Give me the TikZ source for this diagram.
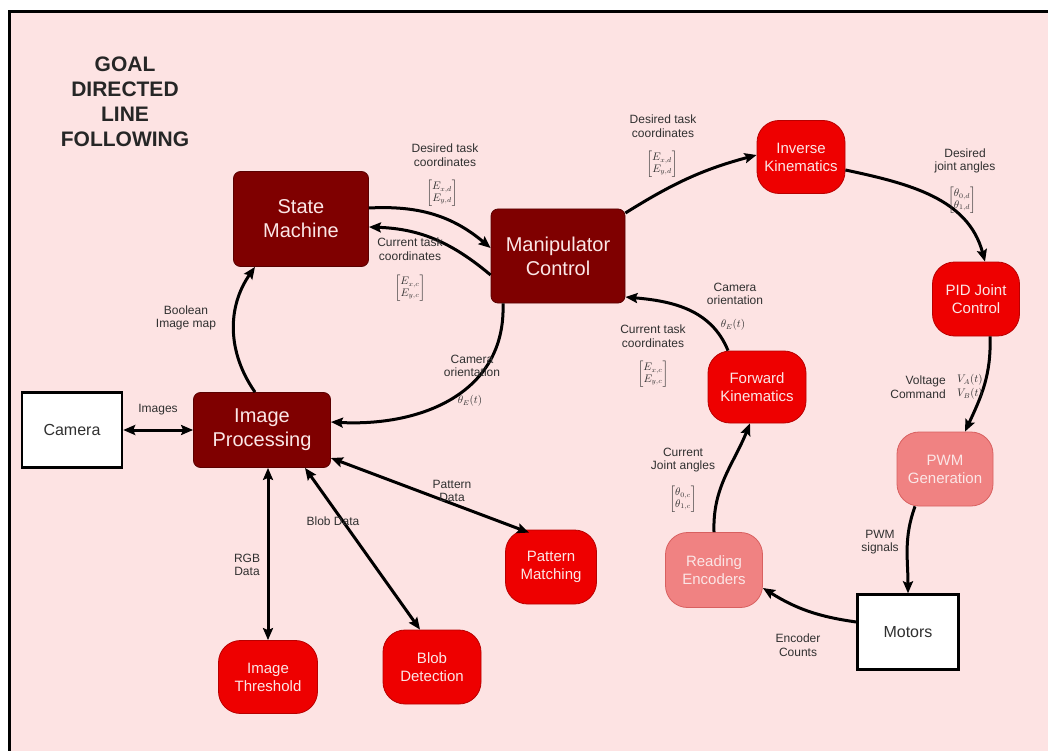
\documentclass[tikz,border=0pt]{standalone}
\usepackage{amsmath}
\usepackage{fontspec}
\setmainfont{Liberation Sans}
\usetikzlibrary{arrows.meta}
\definecolor{bgpink}{HTML}{FDE3E3}
\definecolor{maroonbox}{HTML}{7F0000}
\definecolor{maroonedge}{HTML}{5A0000}
\definecolor{rednode}{HTML}{EE0000}
\definecolor{rededge}{HTML}{B80000}
\definecolor{lightnode}{HTML}{F08282}
\definecolor{lightedge}{HTML}{D86060}
\definecolor{labeltxt}{HTML}{303030}
\definecolor{boxtxt}{HTML}{FBE6E6}
\newcommand\twomat[2]{$\left[\begin{matrix}#1\\#2\end{matrix}\right]$}
\begin{document}
\begin{tikzpicture}[x=1pt,y=-1pt,
  darkbox/.style={draw=maroonedge, line width=0.8pt, fill=maroonbox, rounded corners=7pt,
    text=boxtxt, font=\fontsize{20}{24}\selectfont, align=center, inner sep=0pt},
  rednd/.style={draw=rededge, line width=0.8pt, fill=rednode, rounded corners=22pt,
    text=boxtxt, font=\fontsize{15}{18}\selectfont, align=center, inner sep=0pt},
  lightnd/.style={rednd, draw=lightedge, fill=lightnode},
  whitebox/.style={draw=black, line width=2.4pt, fill=white, text=labeltxt,
    font=\fontsize{16}{19}\selectfont, align=center, inner sep=0pt,
    minimum width=100pt, minimum height=75pt},
  lbl/.style={text=labeltxt, font=\fontsize{12}{13.5}\selectfont, align=center, inner sep=0pt},
  mlbl/.style={text=labeltxt, font=\fontsize{10.5}{11.5}\selectfont, inner sep=0pt},
  arr/.style={line width=3pt, -{Stealth[length=12pt,width=10pt,inset=2pt]}},
  darr/.style={line width=3pt, {Stealth[length=12pt,width=10pt,inset=2pt]}-{Stealth[length=12pt,width=10pt,inset=2pt]}}
]
\useasboundingbox (0,0) rectangle (1048,751);
\fill[white] (0,0) rectangle (1048,751);
\fill[bgpink] (9,12) rectangle (1048,751);
\draw[line width=3pt] (9,770) -- (9,12) -- (1070,12);

% title
\node[text=black!85, font=\bfseries\fontsize{21}{25}\selectfont, align=center] (title) at (125,102)
  {GOAL\\DIRECTED\\LINE\\FOLLOWING};

% main boxes
\node[darkbox, minimum width=135pt, minimum height=95pt] (SM) at (301,219) {State\\Machine};
\node[darkbox, minimum width=134pt, minimum height=94pt] (MC) at (558,256) {Manipulator\\Control};
\node[darkbox, minimum width=137pt, minimum height=75pt] (IP) at (262,430) {Image\\Processing};
\node[whitebox] (CAM) at (72,430) {Camera};
\node[whitebox, minimum width=101pt] (MOT) at (908,632) {Motors};

\node[rednd, minimum width=88pt, minimum height=73pt] (IK) at (801,157) {Inverse\\Kinematics};
\node[rednd, minimum width=87pt, minimum height=74pt] (PID) at (976,299) {PID Joint\\Control};
\node[lightnd, minimum width=96pt, minimum height=74pt] (PWM) at (945,469) {PWM\\Generation};
\node[lightnd, minimum width=97pt, minimum height=75pt] (RE) at (714,570) {Reading\\Encoders};
\node[rednd, minimum width=98pt, minimum height=72pt] (FK) at (757,387) {Forward\\Kinematics};
\node[rednd, minimum width=91pt, minimum height=74pt] (PM) at (551,567) {Pattern\\Matching};
\node[rednd, minimum width=98pt, minimum height=74pt] (BD) at (432,667) {Blob\\Detection};
\node[rednd, minimum width=99pt, minimum height=73pt] (IT) at (268,677) {Image\\Threshold};

% connectors
\draw[arr] ([yshift=11pt]SM.east) to[out=3,in=140] ([yshift=8pt]MC.west);
\draw[arr] ([yshift=-19pt]MC.west) to[out=140,in=-2] ([yshift=-8pt]SM.east);
\draw[arr] ([yshift=43pt]MC.east) to[out=32,in=195] ([yshift=2pt]IK.west);
\draw[arr] ([yshift=-13pt]IK.east) to[out=-12,in=105] ([xshift=9pt]PID.north);
\draw[arr] ([xshift=14pt]PID.south) to[out=-88,in=65] ([xshift=20pt]PWM.north);
\draw[arr] ([xshift=-30pt]PWM.south) to[out=-110,in=90] (MOT.north);
\draw[arr] ([yshift=10pt]MOT.west) to[out=172,in=-32] ([yshift=-18pt]RE.east);
\draw[arr] (RE.north) to[out=92,in=-112] ([xshift=-7pt]FK.south);
\draw[arr] ([xshift=-29pt]FK.north) to[out=112,in=-5] ([yshift=-41pt]MC.east);
\draw[arr] ([xshift=-55pt]MC.south) to[out=-88,in=-3,looseness=1.1] ([yshift=8pt]IP.east);
\draw[arr] ([xshift=-7pt]IP.north) to[out=125,in=-125] ([xshift=-46pt]SM.south);
\draw[darr] (CAM.east) -- (IP.west);
\draw[darr] (IT.north |- IP.south) -- (IT.north);
\draw[darr] ([xshift=43pt]IP.south) -- ([xshift=-12pt]BD.north);
\draw[darr] ([yshift=-28pt]IP.east) -- ([xshift=-22pt,yshift=-3pt]PM.north);

% labels
\node[lbl] (l1) at (445,155) {Desired task\\coordinates};
\node[mlbl] (m1) at (442,193) {\twomat{E_{x,d}}{E_{y,d}}};
\node[lbl] (l2) at (410,249) {Current task\\coordinates};
\node[mlbl] (m2) at (410,288) {\twomat{E_{x,c}}{E_{y,c}}};
\node[lbl] (l3) at (663,126) {Desired task\\coordinates};
\node[mlbl] (m3) at (662,164) {\twomat{E_{x,d}}{E_{y,d}}};
\node[lbl] (l4) at (965,161) {Desired\\joint angles};
\node[mlbl] (m4) at (962,200) {\twomat{\theta_{0,d}}{\theta_{1,d}}};
\node[lbl] (l5) at (735,294) {Camera\\orientation};
\node[mlbl] (m5) at (733,325) {$\theta_E(t)$};
\node[lbl] (l6) at (653,336) {Current task\\coordinates};
\node[mlbl] (m6) at (653,374) {\twomat{E_{x,c}}{E_{y,c}}};
\node[lbl, align=right] (l7) at (918,387) {Voltage\\Command};
\node[mlbl, font=\fontsize{10.5}{14}\selectfont, align=left] (m7) at (970,387) {$V_A(t)$\\$V_B(t)$};
\node[lbl] (l8) at (683,460) {Current\\Joint angles};
\node[mlbl] (m8) at (683,499) {\twomat{\theta_{0,c}}{\theta_{1,c}}};
\node[lbl] (l9) at (472,366) {Camera\\orientation};
\node[mlbl] (m9) at (470,401) {$\theta_E(t)$};
\node[lbl] (l10) at (186,318) {Boolean\\Image map};
\node[lbl] (l11) at (158,410) {Images};
\node[lbl] (l12) at (247,565) {RGB\\Data};
\node[lbl] (l13) at (333,521) {Blob Data};
\node[lbl] (l14) at (452,491) {Pattern\\Data};
\node[lbl] (l15) at (880,542) {PWM\\signals};
\node[lbl] (l16) at (798,645) {Encoder\\Counts};
\end{tikzpicture}
\end{document}
